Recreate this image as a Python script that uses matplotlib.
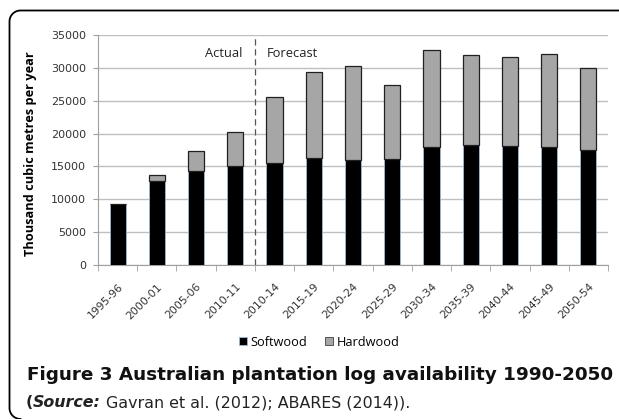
import matplotlib
matplotlib.use("Agg")
import matplotlib.pyplot as plt
import numpy as np
from matplotlib.lines import Line2D
from matplotlib.transforms import ScaledTranslation

categories = ["1995-96", "2000-01", "2005-06", "2010-11", "2010-14", "2015-19", "2020-24",
              "2025-29", "2030-34", "2035-39", "2040-44", "2045-49", "2050-54"]
softwood = [9300, 12800, 14350, 15050, 15550, 16300, 15950, 16100, 17900, 18300, 18050, 17900, 17500]
hardwood = [0, 950, 3000, 5200, 9950, 13000, 14350, 11300, 14800, 13600, 13550, 14250, 12550]
yticks = [0, 5000, 10000, 15000, 20000, 25000, 30000, 35000]

W, H = 619, 419
fig = plt.figure(figsize=(W / 100, H / 100), dpi=100)
plt.rcParams['font.family'] = ['Open Sans', 'DejaVu Sans']

# outer frame (pixel coordinates converted to figure fraction)
r = 11
xl, yt, yb = 9.5, 10.5, 419
th = np.linspace(np.pi / 2, np.pi, 20)
px = list(np.linspace(630, xl + r, 2)) + list(xl + r + r * np.cos(th))
py = [yt, yt] + list(yt + r - r * np.sin(th))
th2 = np.linspace(np.pi, 3 * np.pi / 2, 20)
px += list(xl + r + r * np.cos(th2))
py += list(yb - r - r * np.sin(th2))
fig.add_artist(Line2D(np.array(px) / W, 1 - np.array(py) / H, transform=fig.transFigure,
                      color='black', linewidth=1.3, clip_on=False))

ax = fig.add_axes([98 / W, 1 - 265 / H, (608 - 98) / W, (265 - 35) / H])
x = np.arange(len(categories))
ax.bar(x, softwood, width=0.41, color='black', edgecolor='#9fb8d6', linewidth=0.6, zorder=3)
ax.bar(x, hardwood, width=0.41, bottom=softwood, color='#a6a6a6', edgecolor='#202020',
       linewidth=0.9, zorder=3)

ax.set_xlim(-0.5, len(categories) - 0.5)
ax.set_ylim(0, 35000)
ax.set_yticks(yticks)
ax.set_yticklabels([str(v) for v in yticks], fontsize=8.0, color='#333333',
                   family=['DejaVu Sans'])
ax.yaxis.grid(True, color='#bfbfbf', linewidth=1.0, zorder=0)
ax.set_axisbelow(True)
for s in ['top', 'right']:
    ax.spines[s].set_visible(False)
ax.spines['left'].set_color('#a0a0a0')
ax.spines['bottom'].set_color('#a0a0a0')
ax.tick_params(axis='y', length=3.6, color='#a0a0a0', pad=5)
ax.set_xticks(x)
ax.set_xticklabels(categories, rotation=45, ha='right', va='top', rotation_mode='anchor',
                   fontsize=7.8, color='#333333', family=['DejaVu Sans'])
off = ScaledTranslation(-2 / 100, 0, fig.dpi_scale_trans)
for lab in ax.get_xticklabels():
    lab.set_transform(lab.get_transform() + off)
ax.tick_params(axis='x', length=0, pad=12)
ax.set_xticks(np.arange(-0.5, len(categories) + 0.5, 1), minor=True)
ax.tick_params(axis='x', which='minor', length=4, color='#a0a0a0')
ax.set_ylabel("Thousand cubic metres per year", fontsize=9.2, fontweight='bold')
ax.yaxis.set_label_coords(-0.119, 0.485)

ax.axvline(3.5, color='#555555', linestyle=(0, (5, 3)), linewidth=0.9, zorder=4)
ax.text(3.17, 32260, "Actual", ha='right', va='center', fontsize=9.3, color='#222222')
ax.text(3.8, 32260, "Forecast", ha='left', va='center', fontsize=9.3, color='#222222')

handles = [Line2D([], [], marker='s', linestyle='none', markersize=6, markerfacecolor='black',
                  markeredgecolor='#9fb8d6', markeredgewidth=0.6),
           Line2D([], [], marker='s', linestyle='none', markersize=6, markerfacecolor='#a6a6a6',
                  markeredgecolor='#404040', markeredgewidth=0.6)]
fig.legend(handles, ["Softwood", "Hardwood"], loc='center', bbox_to_anchor=(318 / W, 1 - 342 / H),
           ncol=2, frameon=False, fontsize=9.2, handletextpad=0.1, columnspacing=1.2,
           handlelength=1.0)

# caption
renderer = fig.canvas.get_renderer()
cap = fig.text(27 / W, 1 - 380 / H, "Figure 3 Australian plantation log availability 1990-2050",
               fontsize=12, fontweight='bold', ha='left', va='baseline', color='#111111',
               family=['DejaVu Sans'])
for _ in range(2):
    bb = cap.get_window_extent(renderer)
    cap.set_fontsize(cap.get_fontsize() * (588 / bb.width))

pieces = [("(", dict(fontweight='bold')), ("Source:", dict(fontweight='bold', fontstyle='italic')),
          (" Gavran et al. (2012); ABARES (2014)).", dict())]
texts = []
for txt, kw in pieces:
    texts.append(fig.text(26 / W, 1 - 407 / H, txt, fontsize=10, ha='left', va='baseline',
                          color='#222222', family=['DejaVu Sans'], **kw))


def layout(fs):
    xpos = 26
    for t in texts:
        t.set_fontsize(fs)
        t.set_x(xpos / W)
        xpos += t.get_window_extent(renderer).width
    return xpos - 26


fs = 10.0
for _ in range(3):
    w = layout(fs)
    fs *= 384 / w
layout(fs)

fig.savefig("out.png", dpi=100)
